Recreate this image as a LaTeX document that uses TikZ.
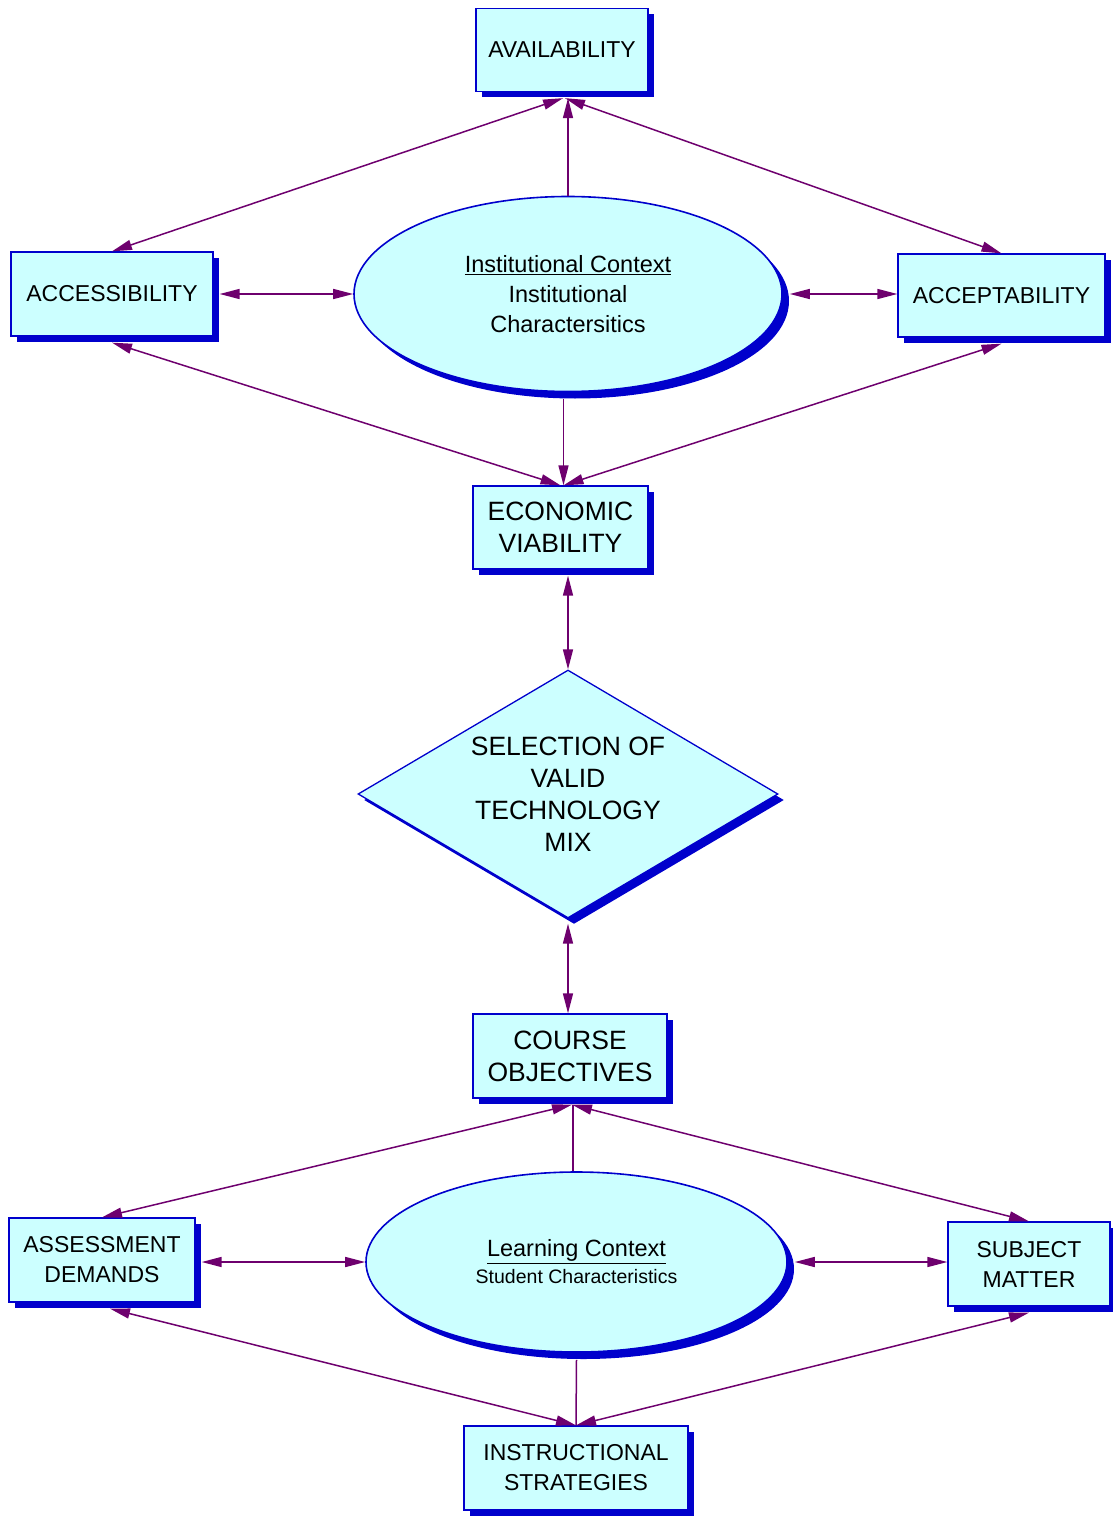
\documentclass[tikz,border=0pt]{standalone}
\usepackage{fontspec}
\setmainfont{Liberation Sans}
\usetikzlibrary{shapes.geometric,arrows.meta,shadows,calc}
\definecolor{cfill}{RGB}{204,255,255}
\definecolor{cborder}{RGB}{0,0,204}
\definecolor{cshadow}{RGB}{0,0,204}
\definecolor{cline}{RGB}{110,0,110}
\begin{document}
\begin{tikzpicture}[x=1pt,y=-1pt,
 shadowed/.style={drop shadow={shadow xshift=6pt, shadow yshift=-6pt, fill=cshadow, opacity=1}},
 box/.style={shadowed, rectangle, draw=cborder, line width=1.3pt, fill=cfill, align=center, inner sep=0pt, font=\fontsize{23}{30}\selectfont},
 bigbox/.style={box, font=\fontsize{26.5}{32}\selectfont},
 ctx/.style={ellipse, draw=cborder, line width=1.6pt, fill=cfill, align=center, inner sep=0pt,
   drop shadow={shadow xshift=7pt, shadow yshift=-7pt, fill=cshadow, opacity=1}},
 dia/.style={diamond, aspect=1.69, draw=cborder, line width=1.3pt, fill=cfill, align=center, inner sep=0pt,
   font=\fontsize{26.5}{32}\selectfont,
   drop shadow={shadow xshift=6pt, shadow yshift=-6pt, fill=cshadow, opacity=1}},
 conn/.style={draw=cline, line width=1.5pt},
 biarrow/.style={conn, {Triangle[length=20pt,width=10pt]}-{Triangle[length=20pt,width=10pt]}},
 toarrow/.style={conn, -{Triangle[length=20pt,width=10pt]}},
]
\useasboundingbox (0,0) rectangle (1112,1517);

\node[box, minimum width=172pt, minimum height=83pt] (avail) at (562,50) {AVAILABILITY};
\node[box, minimum width=202pt, minimum height=84pt] (access) at (112,294) {ACCESSIBILITY};
\node[box, minimum width=207pt, minimum height=83pt] (accept) at (1001.5,295.5) {ACCEPTABILITY};
\node[ctx, minimum width=428pt, minimum height=195pt, font=\fontsize{23.5}{30}\selectfont] (inst) at (568,294)
  {\underline{Institutional Context}\\Institutional\\Charactersitics};
\node[bigbox, minimum width=175pt, minimum height=83pt] (econ) at (560.5,527.5) {ECONOMIC\\VIABILITY};
\node[dia, minimum width=420pt, minimum height=248pt] (sel) at (568,794) {SELECTION OF\\VALID\\TECHNOLOGY\\MIX};
\node[bigbox, minimum width=194pt, minimum height=84pt] (course) at (570,1056) {COURSE\\OBJECTIVES};
\node[ctx, minimum width=421pt, minimum height=180pt, font=\fontsize{19.5}{27}\selectfont] (learn) at (576.5,1262)
  {{\fontsize{23.5}{27}\selectfont\underline{Learning Context}}\\Student Characteristics};
\node[box, minimum width=186pt, minimum height=84pt] (assess) at (102,1260) {ASSESSMENT\\DEMANDS};
\node[box, minimum width=162pt, minimum height=84pt] (subj) at (1029,1264) {SUBJECT\\MATTER};
\node[box, minimum width=224pt, minimum height=84pt] (instr) at (576,1468) {INSTRUCTIONAL\\STRATEGIES};

% upper cluster
\draw[biarrow] ($(avail.south)+(1,6)$) -- (access.north);
\draw[biarrow] ($(avail.south)+(3,6)$) -- (accept.north);
\draw[toarrow] (inst.north) -- ($(inst.north |- avail.south)+(0,6)$);
\draw[biarrow] ($(inst.west -| access.east)+(6,0)$) -- (inst.west);
\draw[biarrow] ($(inst.east)+(7,0)$) -- (inst.east -| accept.west);
\draw[biarrow] ($(access.south)+(0,6)$) -- (econ.north);
\draw[biarrow] ($(accept.south)+(0,6)$) -- ($(econ.north)+(3,0)$);
\draw[toarrow] ($(econ.north |- inst.south)+(3,7)$) -- ($(econ.north)+(3,0)$);
\draw[biarrow] ($(sel.north |- econ.south)+(0,6)$) -- (sel.north);
\draw[biarrow] ($(sel.south)+(0,5)$) -- (sel.south |- course.north);

% lower cluster
\draw[biarrow] ($(course.south)+(2,6)$) -- (assess.north);
\draw[biarrow] ($(course.south)+(2,6)$) -- (subj.north);
\draw[conn] ($(learn.north -| course.south)+(3,0)$) -- ($(course.south)+(3,6)$);
\draw[biarrow] ($(learn.west -| assess.east)+(6,0)$) -- (learn.west);
\draw[biarrow] ($(learn.east)+(7,0)$) -- (learn.east -| subj.west);
\draw[biarrow] ($(assess.south)+(8,6)$) -- (instr.north);
\draw[biarrow] ($(subj.south)+(0,6)$) -- (instr.north);
\draw[conn] ($(learn.south)+(0,7)$) -- (instr.north);
\end{tikzpicture}
\end{document}
